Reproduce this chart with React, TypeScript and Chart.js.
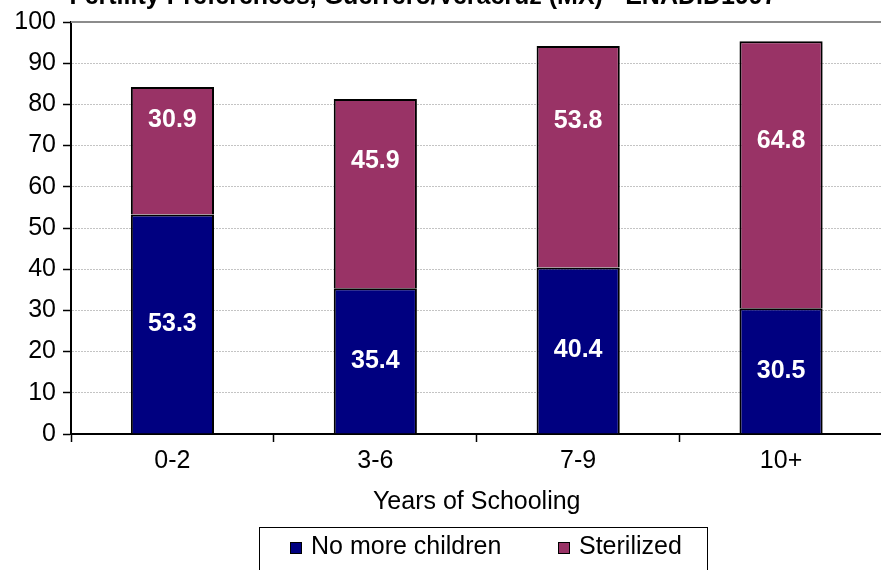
import React, { useEffect, useRef } from "react";
import { Chart, registerables } from "chart.js";

Chart.register(...registerables);

const FONT = "'Liberation Sans', Arial, sans-serif";

const titleText = "Fertility Preferences, Guerrero/Veracruz (MX) - ENADID1997";
const axisTitle = "Years of Schooling";
const categories = ["0-2", "3-6", "7-9", "10+"];
const seriesNames = ["No more children", "Sterilized"];
const noMoreChildren = [53.3, 35.4, 40.4, 30.5];
const sterilized = [30.9, 45.9, 53.8, 64.8];
// value at which each "Sterilized" label sits (as placed in the original)
const sterilizedLabelAt = [76.2, 66.3, 76.0, 71.2];
const yMin = 0;
const yMax = 100;
const yStep = 10;

const NAVY = "#000080";
const MAROON = "#993366";

const decor = {
  id: "decor",
  beforeDatasetsDraw(chart: any) {
    const { ctx, chartArea } = chart;
    ctx.save();
    ctx.strokeStyle = "#8c8c8c";
    ctx.lineWidth = 2;
    ctx.beginPath();
    ctx.moveTo(chartArea.left, chartArea.top);
    ctx.lineTo(chart.width, chartArea.top);
    ctx.stroke();
    ctx.restore();
  },
  afterDatasetsDraw(chart: any) {
    const ctx = chart.ctx;
    const yScale = chart.scales.y;
    ctx.save();
    ctx.font = `bold 25px ${FONT}`;
    ctx.fillStyle = "#ffffff";
    ctx.textAlign = "center";
    ctx.textBaseline = "middle";
    chart.getDatasetMeta(0).data.forEach((bar: any, i: number) => {
      const p = bar.getProps(["x", "y", "base"], true);
      ctx.fillText(noMoreChildren[i].toFixed(1), p.x, (p.y + p.base) / 2);
    });
    chart.getDatasetMeta(1).data.forEach((bar: any, i: number) => {
      const p = bar.getProps(["x"], true);
      ctx.fillText(sterilized[i].toFixed(1), p.x, yScale.getPixelForValue(sterilizedLabelAt[i]));
    });
    ctx.restore();
  },
  afterDraw(chart: any) {
    const ctx = chart.ctx;
    ctx.save();
    // title (partly above the visible page)
    ctx.font = `bold 25px ${FONT}`;
    ctx.fillStyle = "#000";
    ctx.textAlign = "center";
    ctx.textBaseline = "alphabetic";
    ctx.fillText(titleText, 423, 4);
    // legend
    ctx.strokeStyle = "#000";
    ctx.lineWidth = 1;
    ctx.strokeRect(259.5, 527.5, 448, 60);
    const colors = [NAVY, MAROON];
    const xs = [290, 558];
    ctx.font = `25px ${FONT}`;
    ctx.textAlign = "left";
    chart.data.datasets.forEach((ds: any, i: number) => {
      ctx.fillStyle = colors[i];
      ctx.fillRect(xs[i], 542, 12, 12);
      ctx.strokeRect(xs[i] + 0.5, 542.5, 11, 11);
      ctx.fillStyle = "#000";
      ctx.fillText(ds.label, xs[i] + 21, 554);
    });
    ctx.restore();
  },
};

export default function App() {
  const ref = useRef<HTMLCanvasElement>(null);
  useEffect(() => {
    if (!ref.current) return;
    const chart = new Chart(ref.current, {
      type: "bar",
      data: {
        labels: categories,
        datasets: [
          {
            label: seriesNames[0],
            data: noMoreChildren,
            backgroundColor: NAVY,
            borderColor: "#000",
            borderWidth: 2,
            categoryPercentage: 1,
            barPercentage: 0.41,
          },
          {
            label: seriesNames[1],
            data: sterilized,
            backgroundColor: MAROON,
            borderColor: "#000",
            borderWidth: 2,
            categoryPercentage: 1,
            barPercentage: 0.41,
          },
        ],
      },
      options: {
        responsive: false,
        animation: false,
        devicePixelRatio: 1,
        layout: { padding: { left: 0, right: 1.5, top: 18, bottom: 36 } },
        plugins: {
          legend: { display: false },
          title: { display: false },
          tooltip: { enabled: false },
        },
        scales: {
          x: {
            stacked: true,
            afterFit: (s: any) => {
              s.height = 100;
            },
            grid: {
              display: true,
              drawOnChartArea: false,
              tickLength: 8,
              tickColor: "#000",
              tickWidth: 1.5,
              offset: true,
            },
            border: { display: true, color: "#000", width: 2 },
            ticks: {
              color: "#000",
              font: { family: FONT, size: 25 },
              padding: 4,
              maxRotation: 0,
            },
            title: {
              display: true,
              text: axisTitle,
              color: "#000",
              font: { family: FONT, size: 25 },
              padding: { top: 0, bottom: 17 },
            },
          },
          y: {
            stacked: true,
            min: yMin,
            max: yMax,
            afterFit: (s: any) => {
              s.width = 71;
            },
            grid: {
              color: "#c4c4c4",
              lineWidth: 1,
              tickLength: 8,
              tickColor: "#000",
              tickWidth: 1.5,
            },
            border: { display: true, color: "#000", width: 2, dash: [2, 1] },
            ticks: {
              stepSize: yStep,
              color: "#000",
              font: { family: FONT, size: 25 },
              padding: 7,
            },
          },
        },
      },
      plugins: [decor],
    });
    return () => chart.destroy();
  }, []);
  return (
    <div
      style={{
        position: "fixed",
        left: 0,
        top: 0,
        width: 881,
        height: 570,
        overflow: "hidden",
        background: "#fff",
      }}
    >
      <canvas ref={ref} width={884} height={570} style={{ width: 884, height: 570, display: "block" }} />
    </div>
  );
}
